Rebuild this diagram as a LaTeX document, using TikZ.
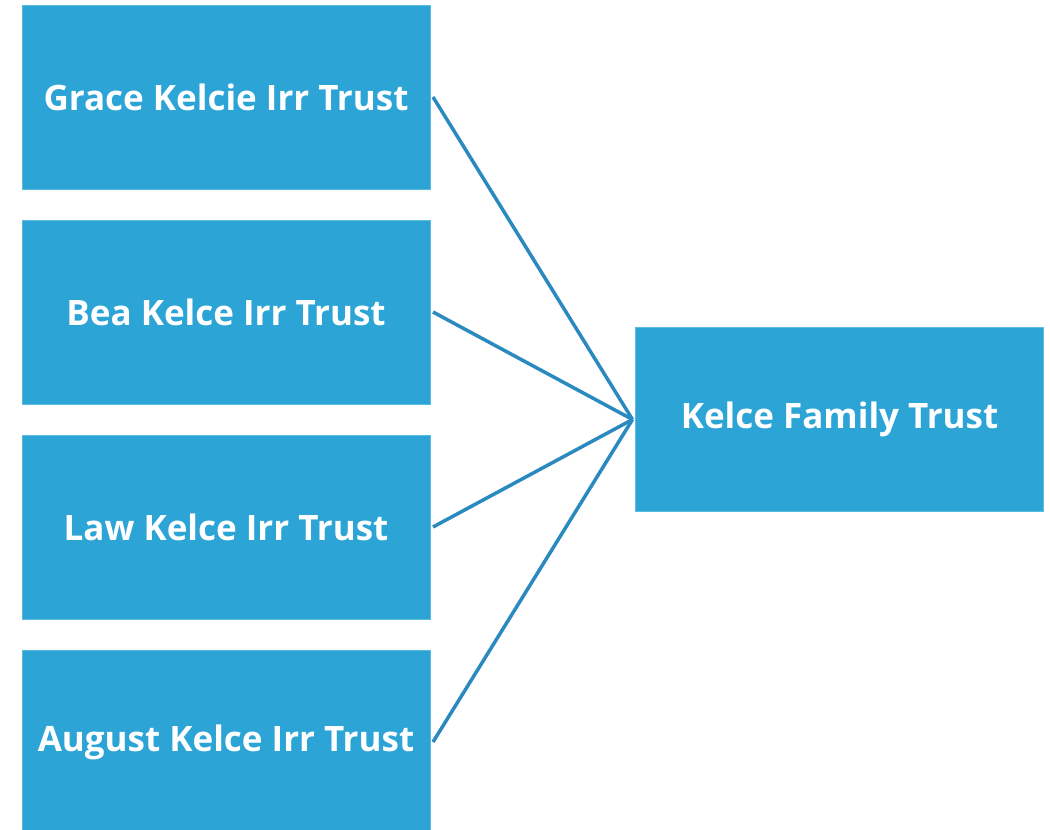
\documentclass[tikz,border=0pt]{standalone}
\usepackage{fontspec}
\setmainfont{Open Sans}
\definecolor{boxblue}{HTML}{2CA5D6}
\definecolor{boxedge}{HTML}{5BBAE0}
\definecolor{linkblue}{HTML}{2A8AC0}
\begin{document}
\begin{tikzpicture}[x=1pt,y=-1pt,
  trustbox/.style={draw=boxedge,line width=0.8pt,fill=boxblue,minimum width=408pt,minimum height=184pt,
    inner sep=0pt,outer sep=3pt,text=white,font=\fontsize{35}{42}\selectfont\bfseries},
  link/.style={draw=linkblue,line width=3.5pt}]
\useasboundingbox (0,0) rectangle (1050,830);
\clip (0,0) rectangle (1050,830);
\node[trustbox] (g) at (226,97) {Grace Kelcie Irr Trust};
\node[trustbox] (b) at (226,312) {Bea Kelce Irr Trust};
\node[trustbox] (l) at (226,527) {Law Kelce Irr Trust};
\node[trustbox] (a) at (226,742) {August Kelce Irr Trust};
\node[trustbox] (k) at (839.5,419.5) {Kelce Family Trust};
\foreach \n in {g,b,l,a} \draw[link] (\n.east) -- (k.west);
\end{tikzpicture}
\end{document}
